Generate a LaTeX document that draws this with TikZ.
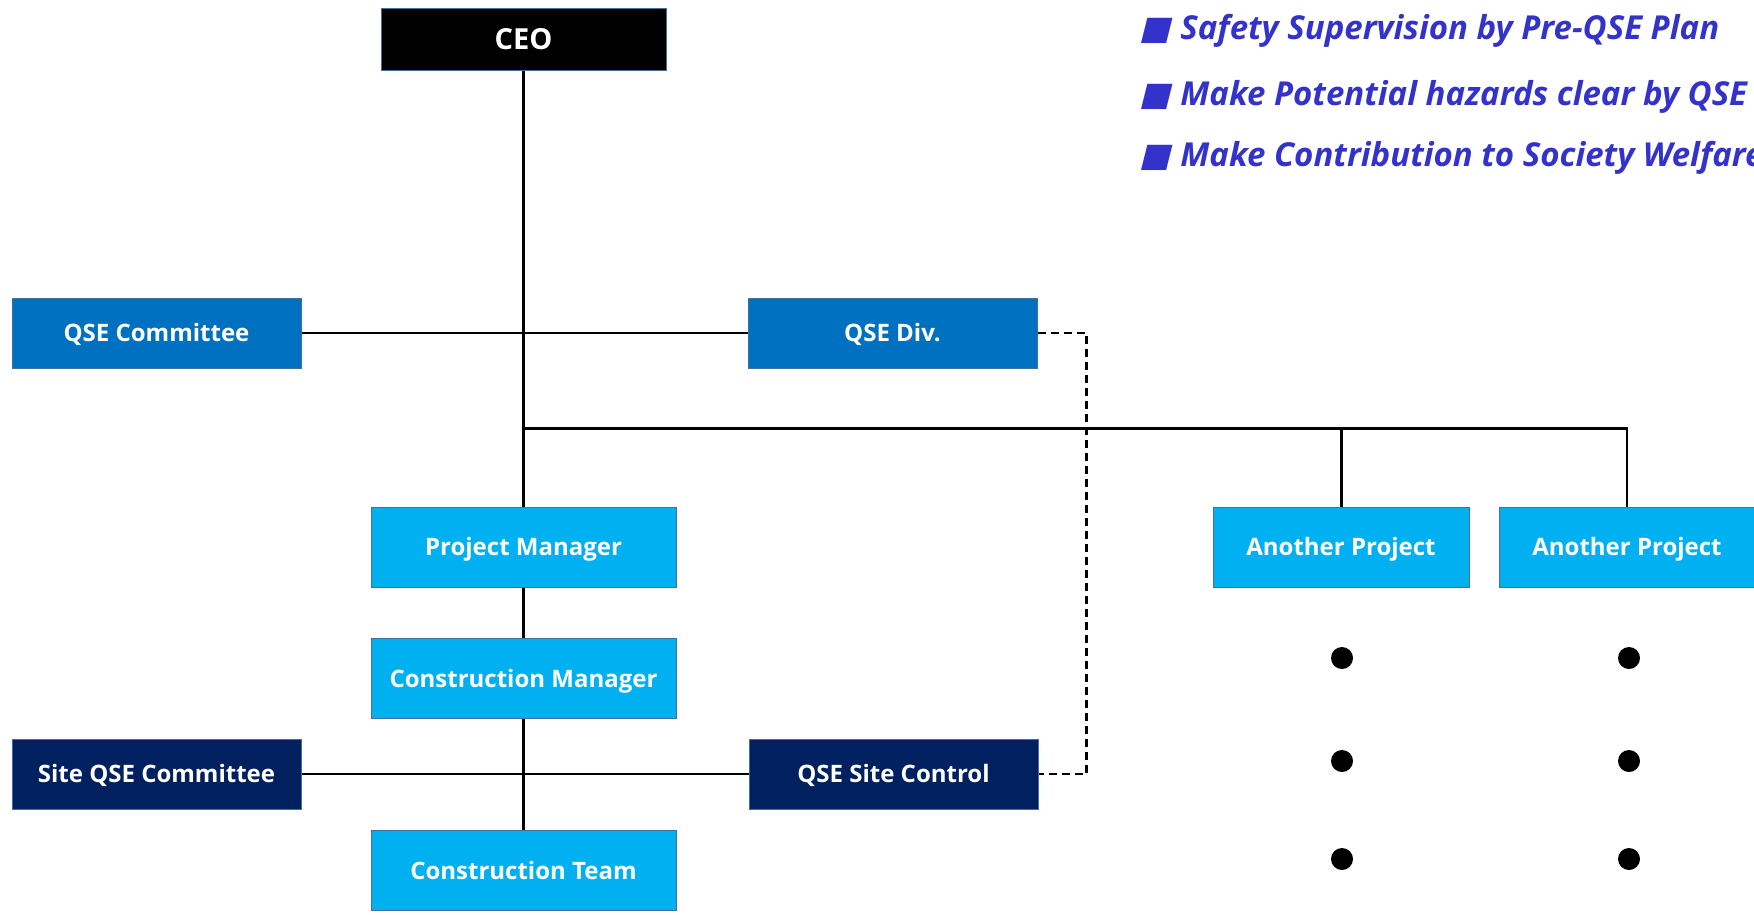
\documentclass[tikz,border=0pt]{standalone}
\usepackage{fontspec}
\setmainfont{Open Sans}
\newfontfamily\symfont[FakeSlant=0.25]{DejaVu Sans}
\definecolor{qseblue}{HTML}{0070C0}
\definecolor{lightblue}{HTML}{00B0F0}
\definecolor{darknavy}{HTML}{002060}
\definecolor{edgeblue}{HTML}{41719C}
\definecolor{goaltext}{HTML}{3333CC}
\begin{document}
\begin{tikzpicture}[x=1pt,y=-1pt,
  box/.style={draw=edgeblue,line width=1pt,text=white,font=\bfseries\fontsize{24}{28}\selectfont,inner sep=0pt,align=center,text height=17pt,text depth=0pt},
  midbox/.style={box,fill=qseblue,minimum width=289pt,minimum height=70pt},
  navybox/.style={box,fill=darknavy,minimum width=289pt,minimum height=70pt},
  lightbox/.style={box,fill=lightblue,minimum width=305pt,minimum height=80pt},
  projbox/.style={box,fill=lightblue,minimum width=256pt,minimum height=80pt},
  link/.style={line width=2.4pt,black},
  goal/.style={anchor=base west,inner sep=0pt,text=goaltext,font=\bfseries\itshape\fontsize{33}{38}\selectfont},
  dot/.style={circle,fill=black,minimum size=22pt,inner sep=0pt}]
\useasboundingbox (0,0) rectangle (1754,914);
\node[box,fill=black,minimum width=285pt,minimum height=62pt,font=\bfseries\fontsize{29}{32}\selectfont,text height=20.7pt] (ceo) at (523.5,39.5) {CEO};
\node[midbox] (qsecom) at (156.5,333) {QSE Committee};
\node[midbox] (qsediv) at (892.5,333) {QSE Div.};
\node[lightbox] (pm) at (523.5,547) {Project Manager};
\node[lightbox] (cm) at (523.5,678.5) {Construction Manager};
\node[navybox] (sitecom) at (156.5,774) {Site QSE Committee};
\node[navybox] (sitectl) at (893.5,774) {QSE Site Control};
\node[lightbox] (ct) at (523.5,870.5) {Construction Team};
\node[projbox] (ap1) at (1341,547) {Another Project};
\node[projbox] (ap2) at (1627,547) {Another Project};
\coordinate (j) at (523.5,428.5);
\draw[link] (ceo.south) -- (pm.north);
\draw[link] (qsecom.east) -- (qsediv.west);
\draw[line width=3pt] (j) -- (j -| ap1) -- (ap1.north);
\draw[link] (j -| ap1) -- (j -| ap2) -- (ap2.north);
\draw[link] (pm.south) -- (cm.north);
\draw[link] (cm.south) -- (ct.north);
\draw[link] (sitecom.east) -- (sitectl.west);
\draw[line width=2.2pt,dash pattern=on 8pt off 5pt] (qsediv.east) -- ++(49,0) |- (sitectl.east);
\foreach \c/\x in {a/1342,b/1629}{
  \foreach \r/\y in {1/658,2/761,3/859}{
    \node[dot] (dot\c\r) at (\x,\y) {};
  }
}
\node[goal] (g1) at (1139,39.5) {{\symfont ■}\hspace{10pt}Safety Supervision by Pre-QSE Plan};
\node[goal] (g2) at (1139,105.5) {{\symfont ■}\hspace{10pt}Make Potential hazards clear by QSE};
\node[goal] (g3) at (1139,166.5) {{\symfont ■}\hspace{10pt}Make Contribution to Society Welfare};
\end{tikzpicture}
\end{document}
